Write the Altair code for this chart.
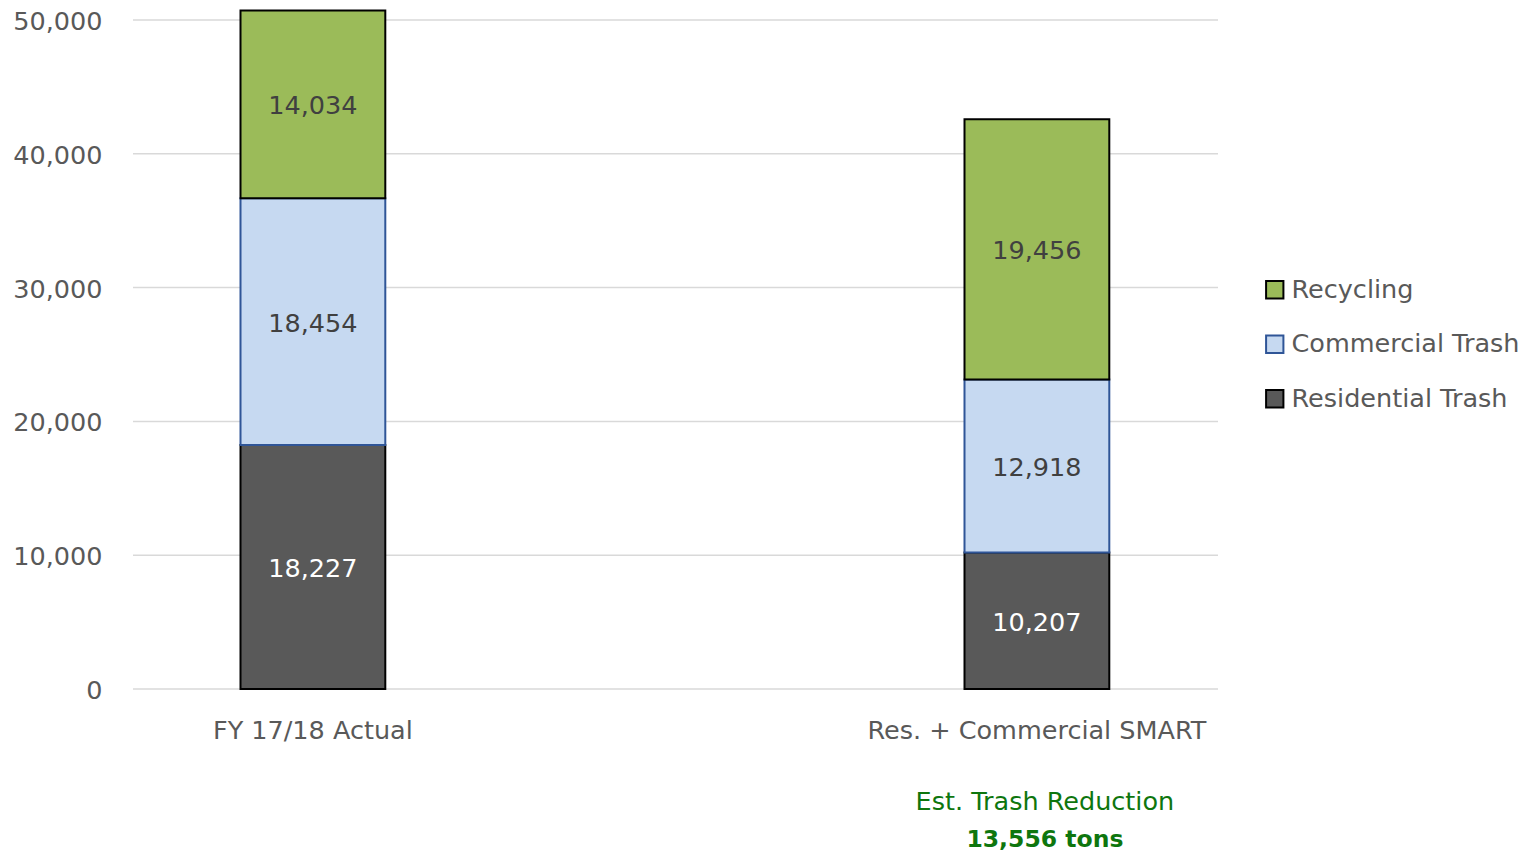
import altair as alt
import pandas as pd

categories = ["FY 17/18 Actual", "Res. + Commercial SMART"]
series = ["Residential Trash", "Commercial Trash", "Recycling"]
residential = [18227, 10207]
commercial = [18454, 12918]
recycling = [14034, 19456]
y_ticks = [0, 10000, 20000, 30000, 40000, 50000]
annotation_lines = ["Est. Trash Reduction", "13,556 tons"]

rows = []
for i, c in enumerate(categories):
    base = 0
    for k, (s, v) in enumerate(zip(series, [residential[i], commercial[i], recycling[i]])):
        rows.append({"cat": c, "series": s, "value": v, "order": k,
                     "y0": base, "y1": base + v, "mid": base + v / 2,
                     "label": f"{v:,}"})
        base += v
df = pd.DataFrame(rows)

FONT = "DejaVu Sans"
FS = 25.5
W, H = 1085, 669

xscale = alt.Scale(domain=categories, range=[107.5, 976.3], paddingInner=0.8, paddingOuter=0)
yscale = alt.Scale(domain=[0, 50000], nice=False)
legend_order = ["Recycling", "Commercial Trash", "Residential Trash"]

yaxis = alt.Axis(title=None, domain=False, ticks=False, grid=False, values=y_ticks,
                 format=",.0f", labelFont=FONT, labelFontSize=FS, labelColor="#595959",
                 labelPadding=31, labelOffset=1.5)
xaxis = alt.Axis(title=None, domain=False, ticks=False, grid=False, labelAngle=0,
                 labelFont=FONT, labelFontSize=FS, labelColor="#595959",
                 labelPadding=29, labelLimit=500)

grid = alt.Chart(pd.DataFrame({"v": y_ticks})).mark_rule(color="#D9D9D9", strokeWidth=1.5).encode(
    y=alt.Y("v:Q", scale=yscale, axis=yaxis),
    x=alt.value(0), x2=alt.value(W),
)

bars = alt.Chart(df).mark_bar(strokeWidth=2).encode(
    x=alt.X("cat:N", scale=xscale, sort=categories, axis=xaxis),
    y=alt.Y("y0:Q", scale=yscale, axis=yaxis),
    y2="y1:Q",
    fill=alt.Fill("series:N", sort=legend_order,
                  scale=alt.Scale(domain=legend_order, range=["#9BBB59", "#C6D9F1", "#595959"]),
                  legend=alt.Legend(title=None, orient="none", legendX=1129, legendY=257,
                                    labelFont=FONT, labelFontSize=FS, labelColor="#595959",
                                    symbolType="square", symbolSize=300, symbolStrokeWidth=2,
                                    rowPadding=27.5, labelLimit=400, labelOffset=4)),
    stroke=alt.Stroke("series:N", sort=legend_order,
                      scale=alt.Scale(domain=legend_order, range=["#000000", "#2F5597", "#000000"]),
                      legend=None),
)

labels = alt.Chart(df).mark_text(font=FONT, fontSize=FS, baseline="middle", dy=2).encode(
    x=alt.X("cat:N", scale=xscale, sort=categories, axis=xaxis),
    y=alt.Y("mid:Q", scale=yscale, axis=yaxis),
    text="label:N",
    color=alt.condition(alt.datum.series == "Residential Trash", alt.value("white"), alt.value("#404040")),
)

ann_df = pd.DataFrame({"cat": [categories[1]], "l1": [annotation_lines[0]], "l2": [annotation_lines[1]]})
ann1 = alt.Chart(ann_df).mark_text(font=FONT, fontSize=FS, color="#0E760E", dx=8, baseline="middle").encode(
    x=alt.X("cat:N", scale=xscale, sort=categories, axis=xaxis), y=alt.value(782), text="l1:N")
ann2 = alt.Chart(ann_df).mark_text(font=FONT, fontSize=23.5, fontWeight="bold", color="#0E760E", dx=8,
                                   baseline="middle").encode(
    x=alt.X("cat:N", scale=xscale, sort=categories, axis=xaxis), y=alt.value(820), text="l2:N")

chart = alt.layer(grid, bars, labels, ann1, ann2).properties(
    width=W, height=H,
    background="white",
    autosize=alt.AutoSizeParams(type="none"),
    padding={"left": 133, "top": 20, "right": 316, "bottom": 164},
).configure_view(strokeWidth=0)

chart.save("out.html", embed_options={"renderer": "svg", "actions": False})
